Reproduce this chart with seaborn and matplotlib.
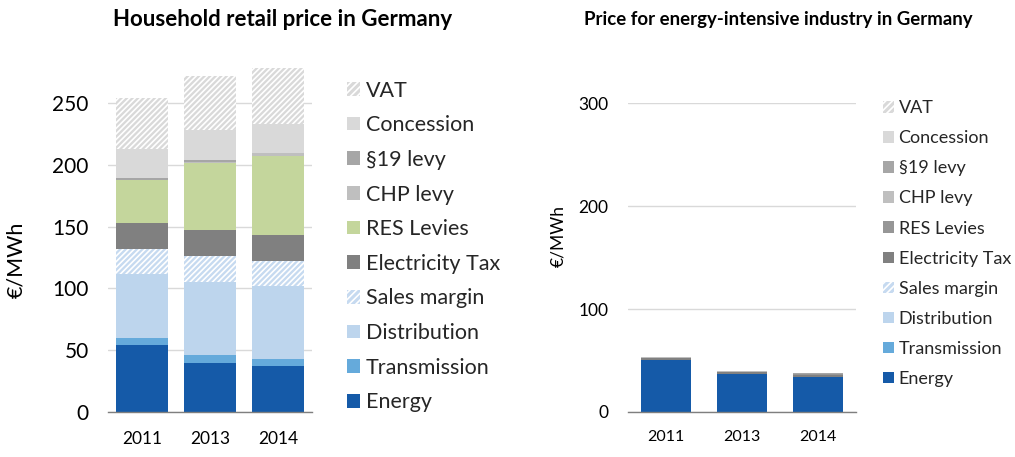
import matplotlib
matplotlib.use("Agg")
import matplotlib.pyplot as plt
import seaborn as sns
import pandas as pd
import numpy as np
from matplotlib.patches import Patch

sns.set_theme(style="white")
plt.rcParams['font.family'] = ['Lato', 'DejaVu Sans']

years = ["2011", "2013", "2014"]
components = ["Energy", "Transmission", "Distribution", "Sales margin", "Electricity Tax",
              "RES Levies", "CHP levy", "§19 levy", "Concession", "VAT"]

# Household retail price (EUR/MWh)
hh_energy = [53.9, 39.6, 36.9]
hh_transmission = [5.7, 6.5, 6.2]
hh_distribution = [52.0, 58.8, 59.1]
hh_sales_margin = [20.4, 21.2, 20.4]
hh_electricity_tax = [20.6, 20.8, 20.8]
hh_res_levies = [35.0, 54.4, 64.1]
hh_chp_levy = [0.4, 1.3, 1.8]
hh_s19_levy = [1.5, 1.7, 0.4]
hh_concession = [23.5, 24.3, 23.7]
hh_vat = [41.0, 43.4, 45.0]

# Energy-intensive industry price (EUR/MWh)
ind_energy = [50.5, 37.0, 34.3]
ind_transmission = [0.0, 0.0, 0.0]
ind_distribution = [0.0, 0.0, 0.0]
ind_sales_margin = [0.0, 0.0, 0.0]
ind_electricity_tax = [1.5, 1.5, 1.5]
ind_res_levies = [0.6, 0.6, 0.7]
ind_chp_levy = [0.5, 0.5, 0.5]
ind_s19_levy = [0.3, 0.4, 0.5]
ind_concession = [0.0, 0.0, 0.0]
ind_vat = [0.0, 0.0, 0.0]

hh = pd.DataFrame({"year": years, "Energy": hh_energy, "Transmission": hh_transmission,
                   "Distribution": hh_distribution, "Sales margin": hh_sales_margin,
                   "Electricity Tax": hh_electricity_tax, "RES Levies": hh_res_levies,
                   "CHP levy": hh_chp_levy, "§19 levy": hh_s19_levy,
                   "Concession": hh_concession, "VAT": hh_vat})
ind = pd.DataFrame({"year": years, "Energy": ind_energy, "Transmission": ind_transmission,
                    "Distribution": ind_distribution, "Sales margin": ind_sales_margin,
                    "Electricity Tax": ind_electricity_tax, "RES Levies": ind_res_levies,
                    "CHP levy": ind_chp_levy, "§19 levy": ind_s19_levy,
                    "Concession": ind_concession, "VAT": ind_vat})

base_colors = {"Energy": "#155aa8", "Transmission": "#65aadb", "Distribution": "#bdd5ed",
               "Sales margin": "#c6daf0", "Electricity Tax": "#808080", "RES Levies": "#c4d69c",
               "CHP levy": "#bfbfbf", "§19 levy": "#a6a6a6", "Concession": "#d9d9d9",
               "VAT": "#d9d9d9"}
hatched = {"Sales margin", "VAT"}

plt.rcParams['hatch.linewidth'] = 1.2

fig = plt.figure(figsize=(10.15, 4.57), dpi=100)
ax1 = fig.add_axes([108/1015, 1-412/457, 204/1015, 346/457])
ax2 = fig.add_axes([628/1015, 1-412/457, 228/1015, 309/457])


def draw(ax, df, colors, width):
    cum = df[components].cumsum(axis=1)
    for comp in reversed(components):
        tmp = pd.DataFrame({"year": df["year"], "value": cum[comp]})
        n0 = len(ax.patches)
        sns.barplot(data=tmp, x="year", y="value", color=colors[comp], width=width,
                    ax=ax, saturation=1, errorbar=None)
        for p in ax.patches[n0:]:
            p.set_facecolor(colors[comp])
            p.set_linewidth(0)
            if comp in hatched:
                p.set_hatch("//////")
                p.set_edgecolor("white")
            else:
                p.set_edgecolor(colors[comp])


def style(ax, ymax, yticks, tick_fs, xtick_fs, ylab_fs, xpad):
    ax.set_ylim(0, ymax)
    ax.set_xlim(-0.5, 2.5)
    ax.set_yticks(yticks)
    ax.yaxis.grid(True, color="#d9d9d9", linewidth=1)
    ax.set_axisbelow(True)
    for s in ["top", "right", "left"]:
        ax.spines[s].set_visible(False)
    ax.spines["bottom"].set_color("#7f7f7f")
    ax.spines["bottom"].set_linewidth(1)
    ax.tick_params(axis="y", length=0, labelsize=tick_fs, pad=14, labelcolor="#000000")
    ax.tick_params(axis="x", which="major", length=0, labelsize=xtick_fs, pad=xpad, labelcolor="#000000")
    ax.set_xticks([-0.5, 0.5, 1.5, 2.5], minor=True)
    ax.tick_params(axis="x", which="minor", length=5, width=1, color="#7f7f7f", direction="out")
    ax.set_xlabel("")
    ax.set_ylabel("€/MWh", fontsize=ylab_fs, color="#000000")


col1 = dict(base_colors)
draw(ax1, hh, col1, 0.76)
style(ax1, 280, [0, 50, 100, 150, 200, 250], 15, 12.5, 15.5, 14)
ax1.yaxis.set_label_coords(-0.40, 0.44)

col2 = dict(base_colors)
col2["RES Levies"] = "#969696"
draw(ax2, ind, col2, 0.67)
style(ax2, 300, [0, 100, 200, 300], 12.5, 11.5, 12.5, 13)
ax2.yaxis.set_label_coords(-0.27, 0.57)

fig.text(283/1015, 1-20/457, "Household retail price in Germany",
         fontsize=16, fontweight="bold", ha="center", va="center", color="#000000")
fig.text(778/1015, 1-19/457, "Price for energy-intensive industry in Germany",
         fontsize=13.4, fontweight="bold", ha="center", va="center", color="#000000")


def handles(colors):
    hs = []
    for comp in reversed(components):
        if comp in hatched:
            hs.append(Patch(facecolor=colors[comp], edgecolor="white", hatch="/////",
                            linewidth=0, label=comp))
        else:
            hs.append(Patch(facecolor=colors[comp], edgecolor=colors[comp], linewidth=0,
                            label=comp))
    return hs


fig.legend(handles=handles(col1), loc="upper left", bbox_to_anchor=(338/1015, 1-72/457),
           frameon=False, fontsize=15.5, handlelength=0.6, handleheight=0.6,
           handletextpad=0.3, labelspacing=0.68, borderaxespad=0)
fig.legend(handles=handles(col2), loc="upper left", bbox_to_anchor=(876/1015, 1-93/457),
           frameon=False, fontsize=13, handlelength=0.6, handleheight=0.6,
           handletextpad=0.25, labelspacing=0.78, borderaxespad=0)

fig.savefig("out.png", dpi=100)
